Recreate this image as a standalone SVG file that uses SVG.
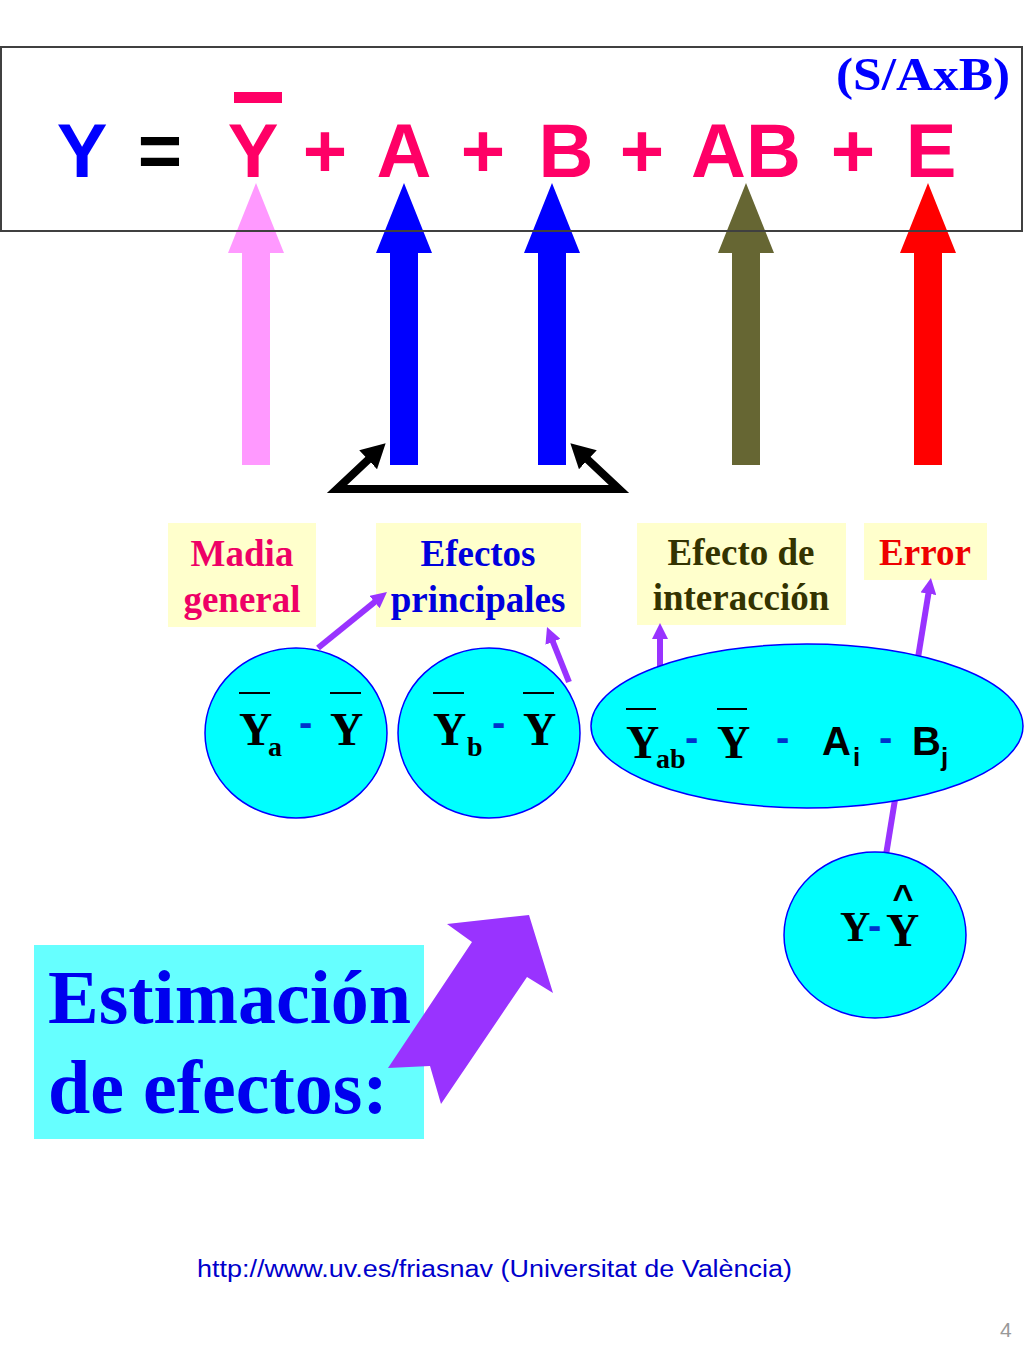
<svg xmlns="http://www.w3.org/2000/svg" xmlns:xlink="http://www.w3.org/1999/xlink" width="1024" height="1365" viewBox="0 0 1024 1365">
<style>
.f{font-family:"Liberation Sans",Arial,sans-serif;font-weight:bold}
.t{font-family:"Liberation Serif","Times New Roman",serif;font-weight:bold}
.lbl{font-family:"Liberation Serif","Times New Roman",serif;font-weight:bold;font-size:37px;text-anchor:middle}
.box{fill:#ffffcc}
.node{fill:#00ffff;stroke:#0000ff;stroke-width:1.5}
.ov{stroke:#000;stroke-width:2}
.m{font-size:46px;fill:#000}
.s{font-size:28px;fill:#000}
.d{font-family:"Liberation Sans",Arial,sans-serif;font-weight:bold;font-size:40px;fill:#0033cc}
.pl{stroke:#9933ff;stroke-width:6;fill:none}
</style>
<defs>
<path id="barrow" d="M0,183 L28,253 L14,253 L14,465 L-14,465 L-14,253 L-28,253 Z"/>
<marker id="pa" markerUnits="userSpaceOnUse" markerWidth="16" markerHeight="16" viewBox="0 0 16 16" refX="2" refY="8" orient="auto">
<path d="M0,0 L16,8 L0,16 Z" fill="#9933ff"/>
</marker>
<marker id="ka" markerUnits="userSpaceOnUse" markerWidth="24" markerHeight="26" viewBox="0 0 24 26" refX="2" refY="13" orient="auto-start-reverse">
<path d="M0,0 L24,13 L0,26 Z" fill="#000"/>
</marker>
</defs>
<rect width="1024" height="1365" fill="#fff"/>

<g id="formula">
<text class="f" x="82" y="177" font-size="76" fill="#0000ff" text-anchor="middle">Y</text>
<text class="f" x="160" y="177" font-size="76" fill="#000" text-anchor="middle">=</text>
<text class="f" x="253" y="177" font-size="76" fill="#ff0066" text-anchor="middle">Y</text>
<rect x="234" y="92" width="48" height="11" fill="#ff0066"/>
<text class="f" x="325" y="177" font-size="76" fill="#ff0066" text-anchor="middle">+</text>
<text class="f" x="404" y="177" font-size="76" fill="#ff0066" text-anchor="middle">A</text>
<text class="f" x="483" y="177" font-size="76" fill="#ff0066" text-anchor="middle">+</text>
<text class="f" x="566" y="177" font-size="76" fill="#ff0066" text-anchor="middle">B</text>
<text class="f" x="642" y="177" font-size="76" fill="#ff0066" text-anchor="middle">+</text>
<text class="f" x="746" y="177" font-size="76" fill="#ff0066" text-anchor="middle">AB</text>
<text class="f" x="853" y="177" font-size="76" fill="#ff0066" text-anchor="middle">+</text>
<text class="f" x="931" y="177" font-size="76" fill="#ff0066" text-anchor="middle">E</text>
<text class="t" x="836" y="90" font-size="46" fill="#0000ff" textLength="174" lengthAdjust="spacingAndGlyphs">(S/AxB)</text>
</g>

<g id="block-arrows">
<use xlink:href="#barrow" href="#barrow" x="256" fill="#ff99ff"/>
<use xlink:href="#barrow" href="#barrow" x="404" fill="#0000ff"/>
<use xlink:href="#barrow" href="#barrow" x="552" fill="#0000ff"/>
<use xlink:href="#barrow" href="#barrow" x="746" fill="#666633"/>
<use xlink:href="#barrow" href="#barrow" x="928" fill="#ff0000"/>
</g>

<g id="frame">
<rect x="1" y="47" width="1021" height="184" fill="none" stroke="#404040" stroke-width="2"/>
</g>

<g id="madia-general">
<rect class="box" x="168" y="523" width="148" height="104"/>
<text class="lbl" x="242" y="566" fill="#ee0066">Madia</text>
<text class="lbl" x="242" y="612" fill="#ee0066">general</text>
</g>
<g id="efectos-principales">
<rect class="box" x="376" y="523" width="205" height="104"/>
<text class="lbl" x="478" y="566" fill="#0000dd">Efectos</text>
<text class="lbl" x="478" y="612" fill="#0000dd">principales</text>
</g>
<g id="efecto-interaccion">
<rect class="box" x="637" y="523" width="209" height="102"/>
<text class="lbl" x="741" y="565" fill="#333300">Efecto de</text>
<text class="lbl" x="741" y="610" fill="#333300">interacción</text>
</g>
<g id="error">
<rect class="box" x="864" y="523" width="123" height="57"/>
<text class="lbl" x="925" y="565" fill="#ee0000">Error</text>
</g>

<g id="connectors">
<path d="M369.6,458.4 L337,489 L619,489 L586.4,458.4" fill="none" stroke="#000" stroke-width="8" stroke-linejoin="miter" stroke-miterlimit="10" marker-start="url(#ka)" marker-end="url(#ka)"/>
<line class="pl" x1="318" y1="648" x2="376.1" y2="600.8" marker-end="url(#pa)"/>
<line class="pl" x1="569" y1="682" x2="552.2" y2="640" marker-end="url(#pa)"/>
<line class="pl" x1="660" y1="668" x2="660" y2="637" marker-end="url(#pa)"/>
<line class="pl" x1="886" y1="855" x2="928.7" y2="591.8" marker-end="url(#pa)"/>
</g>

<g id="node-a">
<ellipse class="node" cx="296" cy="733" rx="91" ry="85"/>
<line class="ov" x1="239" y1="693" x2="270" y2="693"/>
<text class="t m" x="239" y="745">Y</text>
<text class="t s" x="268" y="756">a</text>
<text class="d" x="299" y="736">-</text>
<line class="ov" x1="330" y1="693" x2="361" y2="693"/>
<text class="t m" x="330" y="745">Y</text>
</g>

<g id="node-b">
<ellipse class="node" cx="489" cy="733" rx="91" ry="85"/>
<line class="ov" x1="433" y1="693" x2="464" y2="693"/>
<text class="t m" x="433" y="745">Y</text>
<text class="t s" x="467" y="756">b</text>
<text class="d" x="492" y="736">-</text>
<line class="ov" x1="523" y1="693" x2="554" y2="693"/>
<text class="t m" x="523" y="745">Y</text>
</g>

<g id="node-ab">
<ellipse class="node" cx="807" cy="726" rx="216" ry="82"/>
<line class="ov" x1="626" y1="709" x2="656" y2="709"/>
<text class="t m" x="626" y="758">Y</text>
<text class="t s" x="656" y="768">ab</text>
<text class="d" x="685" y="751">-</text>
<line class="ov" x1="717" y1="709" x2="747" y2="709"/>
<text class="t m" x="717" y="758">Y</text>
<text class="d" x="776" y="751">-</text>
<text class="f" x="822" y="755" font-size="40" fill="#000">A</text>
<text class="f" x="853" y="766" font-size="26" fill="#000">i</text>
<text class="d" x="879" y="751">-</text>
<text class="f" x="912" y="755" font-size="40" fill="#000">B</text>
<text class="f" x="941" y="766" font-size="26" fill="#000">j</text>
</g>

<g id="node-error">
<ellipse class="node" cx="875" cy="935" rx="91" ry="83"/>
<text class="t" x="840" y="941" font-size="42" fill="#000">Y</text>
<text class="d" x="868" y="939">-</text>
<text class="f" x="903" y="910" font-size="36" fill="#000" text-anchor="middle">^</text>
<text class="t m" x="886" y="946">Y</text>
</g>

<g id="estimacion">
<rect x="34" y="945" width="390" height="194" fill="#66ffff"/>
<text class="t" x="48" y="1023" font-size="76" fill="#0000ee">Estimación</text>
<text class="t" x="48" y="1113" font-size="76" fill="#0000ee">de efectos:</text>
<polygon points="388,1068 472,942 447,924 529,915 553,993 527,977 441,1104 430,1066" fill="#9933ff"/>
</g>

<g id="footer">
<text x="197" y="1277" font-family="Liberation Sans, Arial, sans-serif" font-size="23" fill="#0000cc" textLength="595" lengthAdjust="spacingAndGlyphs">http://www.uv.es/friasnav (Universitat de València)</text>
<text x="1000" y="1337" font-family="Liberation Sans, Arial, sans-serif" font-size="21" fill="#999999">4</text>
</g>
</svg>
